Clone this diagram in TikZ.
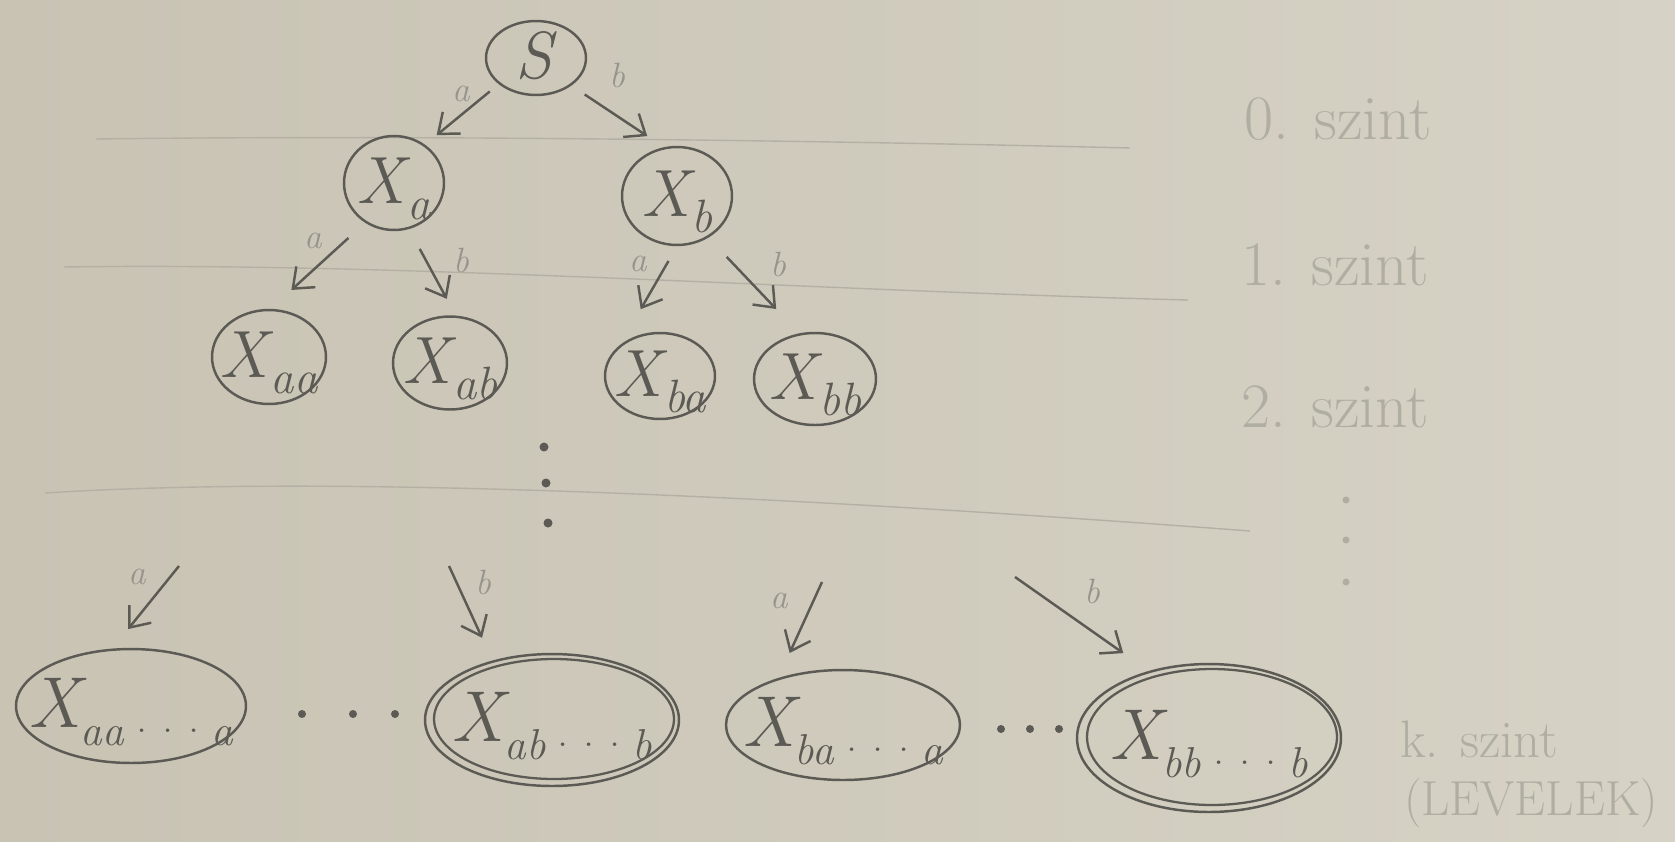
\documentclass[tikz,border=0pt]{standalone}
\usepackage{graphicx}
\usetikzlibrary{shapes.geometric,arrows.meta}
\definecolor{paperL}{RGB}{200,195,179}
\definecolor{paperM}{RGB}{221,219,207}
\definecolor{paperR}{RGB}{214,210,197}
\definecolor{pencil}{RGB}{92,90,84}
\definecolor{faint}{RGB}{150,148,140}
\definecolor{ghost}{RGB}{176,173,162}
\definecolor{ruleln}{RGB}{180,176,164}
\newcommand{\ctxt}[1]{\makebox[0pt]{\raisebox{-0.3em}[0pt][0pt]{#1}}}
\newcommand{\xsub}[1]{\textit{X}\kern-0.05em\raisebox{-0.25em}{\scalebox{0.7}{\textit{#1}}}}
\newcommand{\xlong}[2]{\textit{X}\kern-0.08em\raisebox{-0.25em}{\scalebox{0.6}{\textit{#1}\kern0.05em\mdots\kern0.05em\textit{#2}}}}
\newcommand{\mdots}{\textperiodcentered\kern-0.12em\textperiodcentered\kern-0.12em\textperiodcentered}
\begin{document}
\begin{tikzpicture}[x=0.02cm,y=-0.02cm,
  st/.style={draw=pencil, line width=1.4pt, ellipse, inner sep=0pt, text=pencil,
    font=\fontsize{38}{40}\selectfont},
  leaf/.style={st, font=\fontsize{41}{43}\selectfont},
  ring/.style={draw=pencil, line width=1.3pt},
  arr/.style={draw=pencil, line width=1.4pt, -{Straight Barb[length=10pt,width=16pt]}},
  lbl/.style={text=faint, inner sep=0pt, font=\fontsize{20}{22}\selectfont\itshape},
  lvl/.style={text=ghost, inner sep=0pt, font=\fontsize{36}{38}\selectfont},
  dotp/.style={fill=pencil},
  gdot/.style={fill=ghost}]
\shade[left color=paperL, middle color=paperM, right color=paperR] (0,0) rectangle (1675,841);
\useasboundingbox (0,0) rectangle (1675,841);
% ruled lines of the paper
\draw[ruleln, line width=0.8pt] (96,139) .. controls (400,135) and (800,140) .. (1130,148);
\draw[ruleln, line width=0.8pt] (64,267) .. controls (400,262) and (800,290) .. (1188,300);
\draw[ruleln, line width=0.8pt] (45,493) .. controls (250,480) and (600,482) .. (1250,531);

% nodes
\node[st, minimum width=2.0cm, minimum height=1.48cm] (S) at (536,58) {\ctxt{\textit{S}}};
\node[st, minimum width=2.0cm, minimum height=1.88cm] (Xa) at (394,183) {\ctxt{\xsub{a}}};
\node[st, minimum width=2.2cm, minimum height=1.96cm] (Xb) at (677,196) {\ctxt{\xsub{b}}};
\node[st, minimum width=2.28cm, minimum height=1.88cm] (Xaa) at (269,357) {\ctxt{\xsub{aa}}};
\node[st, minimum width=2.28cm, minimum height=1.86cm] (Xab) at (450,363) {\ctxt{\xsub{ab}}};
\node[st, minimum width=2.2cm, minimum height=1.72cm] (Xba) at (660,376) {\ctxt{\xsub{ba}}};
\node[st, minimum width=2.44cm, minimum height=1.84cm] (Xbb) at (815,379) {\ctxt{\xsub{bb}}};
\node[leaf, minimum width=4.6cm, minimum height=2.28cm] (Laa) at (131,706) {\ctxt{\xlong{aa}{a}}};
\node[leaf, minimum width=5.08cm, minimum height=2.64cm] (Lab) at (552,720) {\ctxt{\xlong{ab}{b}}};
\node[leaf, minimum width=4.68cm, minimum height=2.2cm] (Lba) at (843,725) {\ctxt{\xlong{ba}{a}}};
\node[leaf, minimum width=5.28cm, minimum height=2.96cm] (Lbb) at (1209,738) {\ctxt{\xlong{bb}{b}}};
% second rings of the accepting leaves
\draw[ring] ([xshift=0.04cm,yshift=0.02cm]Lab.center) ellipse [x radius=2.40cm, y radius=1.20cm];
\draw[ring] ([xshift=0.06cm,yshift=0.02cm]Lbb.center) ellipse [x radius=2.50cm, y radius=1.36cm];

% arrows
\draw[arr, shorten <=0.23cm, shorten >=0.30cm] (S.215) -- (Xa.51);
\draw[arr, shorten <=0.32cm, shorten >=0.40cm] (S.322) -- (Xb.105);
\draw[arr, shorten <=0.45cm, shorten >=0.56cm] (Xa.234) -- (Xaa.88);
\draw[arr, shorten <=0.45cm, shorten >=0.38cm] (Xa.288) -- (Xab.83);
\draw[arr, shorten <=0.34cm, shorten >=0.82cm] (Xb.270) -- (Xba.north west);
\draw[arr, shorten <=0.53cm, shorten >=0.67cm] (Xb.307) -- (Xbb.109);
\coordinate (c1) at (179,566);
\coordinate (c2) at (449,566);
\coordinate (c3) at (822,582);
\coordinate (c4) at (1015,577);
\draw[arr, shorten >=0.5cm] (c1) -- (Laa.108);
\draw[arr, shorten >=0.5cm] (c2) -- (Lab.135);
\draw[arr, shorten >=0.55cm] (c3) -- (Lba.144);
\draw[arr, shorten >=0.62cm] (c4) -- (Lbb.132);

% arrow labels
\node[lbl] (t1) at (461,94) {a};
\node[lbl] (t2) at (617,75) {b};
\node[lbl] (t3) at (313,241) {a};
\node[lbl] (t4) at (461,260) {b};
\node[lbl] (t5) at (638,264) {a};
\node[lbl] (t6) at (778,264) {b};
\node[lbl] (t7) at (137,577) {a};
\node[lbl] (t8) at (483,582) {b};
\node[lbl] (t9) at (779,601) {a};
\node[lbl] (t10) at (1092,591) {b};

% dots
\fill[dotp] (544,447) circle (4.5);
\fill[dotp] (546,483) circle (4.5);
\fill[dotp] (548,523) circle (4.5);
\fill[dotp] (302,714) circle (4);
\fill[dotp] (353,714) circle (4);
\fill[dotp] (395,714) circle (4);
\fill[dotp] (1001,729) circle (4);
\fill[dotp] (1030,729) circle (4);
\fill[dotp] (1059,729) circle (4);

% level labels
\node[lvl] (l0) at (1338,119) {0. szint};
\node[lvl] (l1) at (1335,265) {1. szint};
\node[lvl] (l2) at (1335,407) {2. szint};
\fill[gdot] (1346,500) circle (3.5);
\fill[gdot] (1346,540) circle (3.5);
\fill[gdot] (1346,582) circle (3.5);
\node[lvl, font=\fontsize{30}{32}\selectfont] (lk) at (1479,739) {k. szint};
\node[lvl, font=\fontsize{28}{30}\selectfont] (lv) at (1531,803) {(LEVELEK)};
\end{tikzpicture}
\end{document}
